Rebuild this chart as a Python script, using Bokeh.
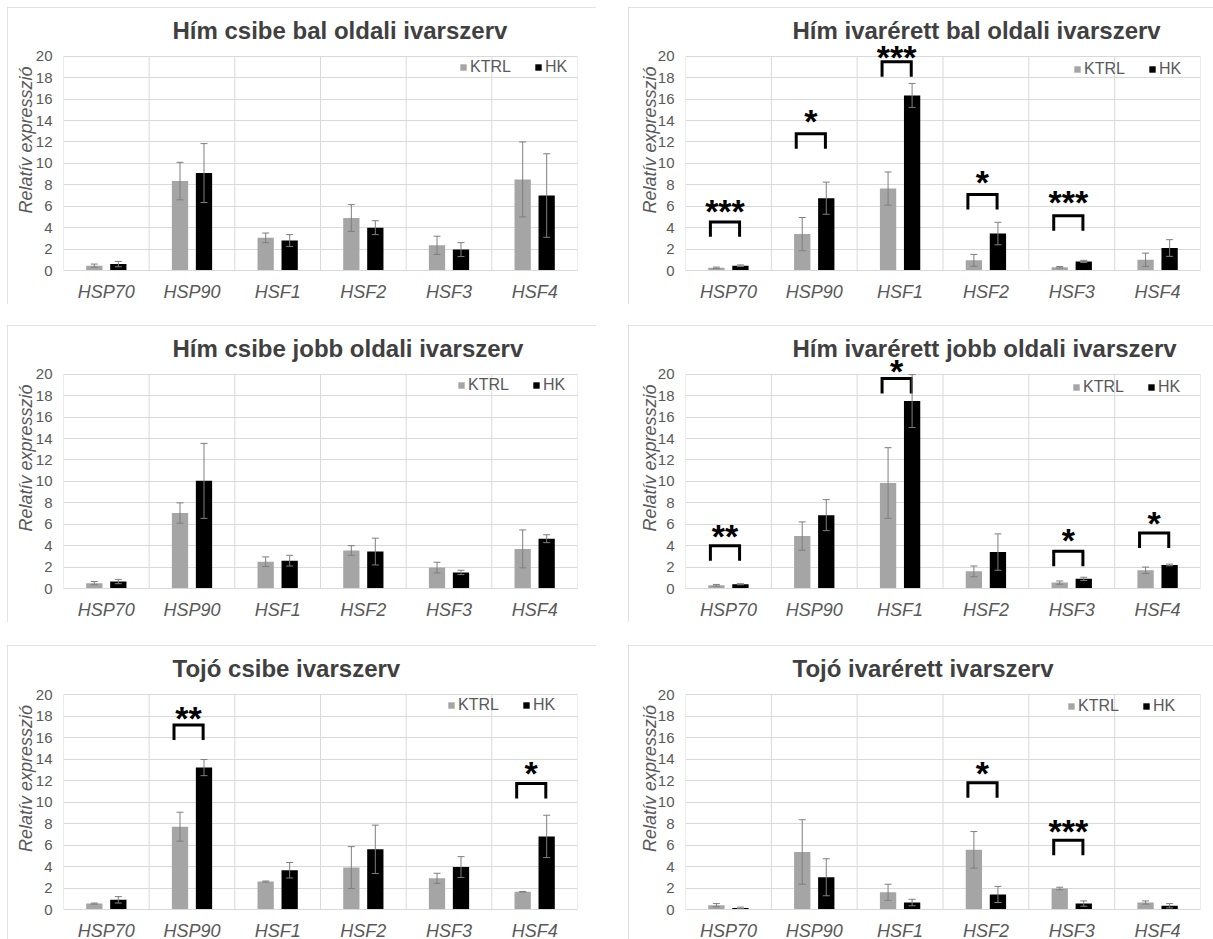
from bokeh.plotting import figure
from bokeh.models import (Range1d, FixedTicker, ColumnDataSource, Whisker, TeeHead,
                          Legend, LegendItem, Label)
from bokeh.layouts import column, row
from bokeh.embed import file_html
from bokeh.resources import INLINE

# ---------------- data ----------------
genes = ["HSP70", "HSP90", "HSF1", "HSF2", "HSF3", "HSF4"]
series_names = ["KTRL", "HK"]
y_ticks = [0, 2, 4, 6, 8, 10, 12, 14, 16, 18, 20]
y_label = "Relatív expresszió"

title_1 = "Hím csibe bal oldali ivarszerv"
ktrl_1 = [0.45, 8.35, 3.05, 4.9, 2.35, 8.5]
ktrl_err_1 = [0.15, 1.75, 0.45, 1.25, 0.85, 3.5]
hk_1 = [0.6, 9.1, 2.8, 4.0, 1.95, 7.0]
hk_err_1 = [0.25, 2.75, 0.55, 0.65, 0.65, 3.9]
sig_genes_1 = []
sig_stars_1 = []
sig_level_1 = []
sig_star_y_1 = []

title_2 = "Hím ivarérett bal oldali ivarszerv"
ktrl_2 = [0.25, 3.4, 7.65, 0.95, 0.3, 1.0]
ktrl_err_2 = [0.07, 1.55, 1.55, 0.55, 0.07, 0.62]
hk_2 = [0.45, 6.75, 16.35, 3.45, 0.85, 2.1]
hk_err_2 = [0.07, 1.5, 1.12, 1.05, 0.1, 0.78]
sig_genes_2 = ["HSP70", "HSP90", "HSF1", "HSF2", "HSF3"]
sig_stars_2 = ["***", "*", "***", "*", "***"]
sig_level_2 = [4.54, 12.78, 19.5, 7.1, 5.12]
sig_star_y_2 = [5.8, 14.2, 20.2, 8.55, 6.7]

title_3 = "Hím csibe jobb oldali ivarszerv"
ktrl_3 = [0.5, 7.05, 2.5, 3.55, 1.95, 3.7]
ktrl_err_3 = [0.15, 0.95, 0.45, 0.45, 0.5, 1.77]
hk_3 = [0.65, 10.05, 2.6, 3.45, 1.5, 4.65]
hk_err_3 = [0.2, 3.5, 0.5, 1.25, 0.2, 0.37]
sig_genes_3 = []
sig_stars_3 = []
sig_level_3 = []
sig_star_y_3 = []

title_4 = "Hím ivarérett jobb oldali ivarszerv"
ktrl_4 = [0.3, 4.9, 9.85, 1.6, 0.55, 1.7]
ktrl_err_4 = [0.08, 1.32, 3.3, 0.5, 0.15, 0.3]
hk_4 = [0.4, 6.85, 17.5, 3.4, 0.9, 2.2]
hk_err_4 = [0.05, 1.45, 2.47, 1.7, 0.15, 0.08]
sig_genes_4 = ["HSP70", "HSF1", "HSF3", "HSF4"]
sig_stars_4 = ["**", "*", "*", "*"]
sig_level_4 = [4.0, 19.6, 3.47, 5.18]
sig_star_y_4 = [5.18, 20.6, 4.77, 6.42]

title_5 = "Tojó csibe ivarszerv"
ktrl_5 = [0.55, 7.7, 2.6, 3.9, 2.9, 1.65]
ktrl_err_5 = [0.05, 1.35, 0.05, 1.95, 0.47, 0.03]
hk_5 = [0.9, 13.2, 3.65, 5.6, 3.95, 6.8]
hk_err_5 = [0.3, 0.75, 0.72, 2.25, 0.97, 1.97]
sig_genes_5 = ["HSP90", "HSF4"]
sig_stars_5 = ["**", "*"]
sig_level_5 = [17.17, 11.72]
sig_star_y_5 = [18.1, 13.0]

title_6 = "Tojó ivarérett ivarszerv"
ktrl_6 = [0.4, 5.35, 1.6, 5.55, 1.95, 0.65]
ktrl_err_6 = [0.15, 3.0, 0.75, 1.7, 0.12, 0.15]
hk_6 = [0.15, 3.0, 0.65, 1.4, 0.55, 0.35]
hk_err_6 = [0.07, 1.72, 0.3, 0.75, 0.25, 0.2]
sig_genes_6 = ["HSF2", "HSF3"]
sig_stars_6 = ["*", "***"]
sig_level_6 = [11.8, 6.44]
sig_star_y_6 = [13.0, 7.6]

# ---------------- styles / layout ----------------
FONT = "Liberation Sans"
GRID = "#d9d9d9"
TXT = "#595959"
TITLE_C = "#404040"
ERR_C = "#7f7f7f"
KTRL_C = "#a5a5a5"
HK_C = "#000000"
Y_MAX = 20
DATA_H = 215          # pixels between value 0 and value 20
EXTRA_H = 47          # pixels of plot area above value 20 (title and stars live here)
BAR_W = 0.19
DODGE = 0.14
BR_SHIFT = -0.04
BR_HALF = 0.17
BR_LEG = 1.4
TITLE_ABOVE = 26      # px between the 20-line and the title's middle


def panel(title, ktrl, ktrl_err, hk, hk_err, sg, ss, sl, sy, col, last_row, leg_x, leg_dy):
    left = 56 if col == 0 else 57
    right = 19 if col == 0 else 20
    frame_w = 514 if col == 0 else 515
    top = 2
    bottom = 36 if last_row else 33
    px_per_unit = DATA_H / Y_MAX
    y_top = Y_MAX + EXTRA_H / px_per_unit
    n = len(genes)
    p = figure(width=left + frame_w + right, height=top + DATA_H + EXTRA_H + bottom,
               x_range=Range1d(0, n), y_range=Range1d(0, y_top),
               output_backend="svg", toolbar_location=None,
               min_border_left=left, min_border_right=right,
               min_border_top=top, min_border_bottom=bottom)
    p.styles = {"outline": "1px solid " + GRID, "outline-offset": "-1px"}
    p.outline_line_color = None

    # title
    title_left_px = 109 if col == 0 else 107
    p.add_layout(Label(x=title_left_px * n / frame_w, y=Y_MAX + TITLE_ABOVE / px_per_unit,
                       text=title, text_font=FONT, text_font_style="bold",
                       text_font_size="24px", text_color=TITLE_C,
                       text_align="left", text_baseline="middle"))

    centers = [i + 0.5 for i in range(n)]
    p.xaxis.ticker = FixedTicker(ticks=centers)
    p.xaxis.major_label_overrides = {c: g for c, g in zip(centers, genes)}
    p.xaxis.major_tick_in = 0
    p.xaxis.major_tick_out = 0
    p.xaxis.minor_tick_line_color = None
    p.xaxis.axis_line_color = GRID
    p.xaxis.major_label_text_font = FONT
    p.xaxis.major_label_text_font_style = "italic"
    p.xaxis.major_label_text_font_size = "18px"
    p.xaxis.major_label_text_color = TXT
    p.xaxis.major_label_standoff = 11

    p.yaxis.ticker = FixedTicker(ticks=y_ticks)
    p.yaxis.bounds = (0, Y_MAX)
    p.yaxis.major_tick_in = 0
    p.yaxis.major_tick_out = 0
    p.yaxis.minor_tick_line_color = None
    p.yaxis.axis_line_color = None
    p.yaxis.major_label_text_font = FONT
    p.yaxis.major_label_text_font_size = "15px"
    p.yaxis.major_label_text_color = TXT
    p.yaxis.major_label_standoff = 11
    p.yaxis.axis_label = y_label
    p.yaxis.axis_label_text_font = FONT
    p.yaxis.axis_label_text_font_style = "italic"
    p.yaxis.axis_label_text_font_size = "18px"
    p.yaxis.axis_label_text_color = TXT
    p.yaxis.axis_label_standoff = -3 if col == 0 else -5

    p.ygrid.ticker = FixedTicker(ticks=y_ticks)
    p.ygrid.grid_line_color = GRID
    p.xgrid.grid_line_color = None
    # category separators and plot-area sides (0 .. 20 only)
    bounds = list(range(n + 1))
    p.segment(x0=bounds, y0=[0] * len(bounds), x1=bounds, y1=[Y_MAX] * len(bounds),
              line_color=GRID, line_width=1, level="underlay")

    renderers = []
    for vals, errs, shift, color in ((ktrl, ktrl_err, -DODGE, KTRL_C), (hk, hk_err, DODGE, HK_C)):
        src = ColumnDataSource(dict(
            x=[c + shift for c in centers], top=vals,
            upper=[v + e for v, e in zip(vals, errs)],
            lower=[v - e for v, e in zip(vals, errs)]))
        r = p.vbar(x="x", top="top", width=BAR_W, source=src, fill_color=color, line_color=None)
        renderers.append(r)
        w = Whisker(source=src, base="x", upper="upper", lower="lower",
                    line_color=ERR_C, line_width=1, level="annotation",
                    upper_head=TeeHead(size=7, line_color=ERR_C, line_width=1),
                    lower_head=TeeHead(size=7, line_color=ERR_C, line_width=1))
        p.add_layout(w)

    if sg:
        bx = [genes.index(g) + 0.5 + BR_SHIFT for g in sg]
        xs = [[c - BR_HALF, c - BR_HALF, c + BR_HALF, c + BR_HALF] for c in bx]
        ys = [[lv - BR_LEG, lv, lv, lv - BR_LEG] for lv in sl]
        p.multi_line(xs, ys, line_color="black", line_width=3, line_join="miter")
        for c, yv, t in zip(bx, sy, ss):
            p.add_layout(Label(x=c, y=yv, text=t, text_font=FONT, text_font_style="bold",
                               text_font_size="34px", text_align="center",
                               text_baseline="alphabetic", y_offset=-3,
                               text_color="black", level="annotation"))

    legend = Legend(items=[LegendItem(label=series_names[0], renderers=[renderers[0]]),
                           LegendItem(label=series_names[1], renderers=[renderers[1]])],
                    location=(leg_x, DATA_H - leg_dy - 9), orientation="horizontal",
                    glyph_width=8, glyph_height=8, label_standoff=3, spacing=23,
                    padding=0, margin=0, label_height=8, label_width=10,
                    label_text_font=FONT, label_text_font_size="16px", label_text_color=TXT,
                    background_fill_alpha=0, border_line_alpha=0)
    p.add_layout(legend)
    return p


p1 = panel(title_1, ktrl_1, ktrl_err_1, hk_1, hk_err_1, sig_genes_1, sig_stars_1, sig_level_1, sig_star_y_1, 0, False, 396, 12)
p2 = panel(title_2, ktrl_2, ktrl_err_2, hk_2, hk_err_2, sig_genes_2, sig_stars_2, sig_level_2, sig_star_y_2, 1, False, 388, 14)
p3 = panel(title_3, ktrl_3, ktrl_err_3, hk_3, hk_err_3, sig_genes_3, sig_stars_3, sig_level_3, sig_star_y_3, 0, False, 394, 12)
p4 = panel(title_4, ktrl_4, ktrl_err_4, hk_4, hk_err_4, sig_genes_4, sig_stars_4, sig_level_4, sig_star_y_4, 1, False, 387, 14)
p5 = panel(title_5, ktrl_5, ktrl_err_5, hk_5, hk_err_5, sig_genes_5, sig_stars_5, sig_level_5, sig_star_y_5, 0, True, 384, 11)
p6 = panel(title_6, ktrl_6, ktrl_err_6, hk_6, hk_err_6, sig_genes_6, sig_stars_6, sig_level_6, sig_star_y_6, 1, True, 382, 12)

layout = column(column(row(p1, p2, spacing=32), row(p3, p4, spacing=32), spacing=21),
                row(p5, p6, spacing=32), spacing=23, margin=(7, 0, 0, 7))

open("out.html", "w").write(file_html(layout, INLINE))
